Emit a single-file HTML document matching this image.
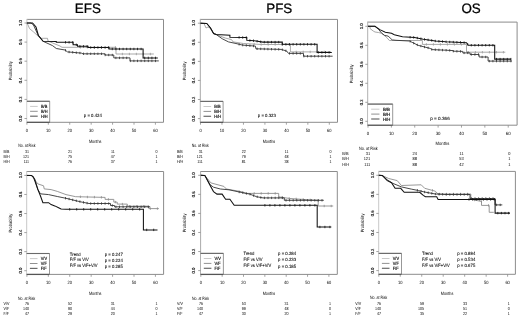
<!DOCTYPE html>
<html><head><meta charset="utf-8"><style>
html,body{margin:0;padding:0;background:#fff;}
body{width:520px;height:319px;overflow:hidden;}
svg{display:block;font-family:"Liberation Sans", sans-serif;filter:grayscale(1);text-rendering:geometricPrecision;}
</style></head><body>
<svg width="520" height="319" viewBox="0 0 520 319">
<rect width="520" height="319" fill="#fff"/>
<path d="M26.90 19.40H163.50V122.30H26.90" fill="none" stroke="#8c8c8c" stroke-width="1"/>
<line x1="26.90" y1="18.90" x2="26.90" y2="122.80" stroke="#c8c8c8" stroke-width="1"/>
<line x1="24.50" y1="118.50" x2="26.90" y2="118.50" stroke="#8c8c8c" stroke-width="0.8"/>
<text font-size="44.0" text-anchor="middle" fill="#000" stroke="#000" stroke-width="1.0" transform="translate(21.70 118.50) rotate(-90) scale(0.0950 0.1000)">0.0</text>
<line x1="24.50" y1="99.40" x2="26.90" y2="99.40" stroke="#8c8c8c" stroke-width="0.8"/>
<text font-size="44.0" text-anchor="middle" fill="#000" stroke="#000" stroke-width="1.0" transform="translate(21.70 99.40) rotate(-90) scale(0.0950 0.1000)">0.2</text>
<line x1="24.50" y1="80.30" x2="26.90" y2="80.30" stroke="#8c8c8c" stroke-width="0.8"/>
<text font-size="44.0" text-anchor="middle" fill="#000" stroke="#000" stroke-width="1.0" transform="translate(21.70 80.30) rotate(-90) scale(0.0950 0.1000)">0.4</text>
<line x1="24.50" y1="61.20" x2="26.90" y2="61.20" stroke="#8c8c8c" stroke-width="0.8"/>
<text font-size="44.0" text-anchor="middle" fill="#000" stroke="#000" stroke-width="1.0" transform="translate(21.70 61.20) rotate(-90) scale(0.0950 0.1000)">0.6</text>
<line x1="24.50" y1="42.10" x2="26.90" y2="42.10" stroke="#8c8c8c" stroke-width="0.8"/>
<text font-size="44.0" text-anchor="middle" fill="#000" stroke="#000" stroke-width="1.0" transform="translate(21.70 42.10) rotate(-90) scale(0.0950 0.1000)">0.8</text>
<line x1="24.50" y1="23.00" x2="26.90" y2="23.00" stroke="#8c8c8c" stroke-width="0.8"/>
<text font-size="44.0" text-anchor="middle" fill="#000" stroke="#000" stroke-width="1.0" transform="translate(21.70 23.00) rotate(-90) scale(0.0950 0.1000)">1.0</text>
<line x1="26.90" y1="122.30" x2="26.90" y2="124.70" stroke="#8c8c8c" stroke-width="0.8"/>
<text font-size="47.0" text-anchor="middle" fill="#000" transform="translate(26.90 132.00) scale(0.0850 0.1000)">0</text>
<line x1="48.32" y1="122.30" x2="48.32" y2="124.70" stroke="#8c8c8c" stroke-width="0.8"/>
<text font-size="47.0" text-anchor="middle" fill="#000" transform="translate(48.32 132.00) scale(0.0850 0.1000)">10</text>
<line x1="69.74" y1="122.30" x2="69.74" y2="124.70" stroke="#8c8c8c" stroke-width="0.8"/>
<text font-size="47.0" text-anchor="middle" fill="#000" transform="translate(69.74 132.00) scale(0.0850 0.1000)">20</text>
<line x1="91.16" y1="122.30" x2="91.16" y2="124.70" stroke="#8c8c8c" stroke-width="0.8"/>
<text font-size="47.0" text-anchor="middle" fill="#000" transform="translate(91.16 132.00) scale(0.0850 0.1000)">30</text>
<line x1="112.58" y1="122.30" x2="112.58" y2="124.70" stroke="#8c8c8c" stroke-width="0.8"/>
<text font-size="47.0" text-anchor="middle" fill="#000" transform="translate(112.58 132.00) scale(0.0850 0.1000)">40</text>
<line x1="134.00" y1="122.30" x2="134.00" y2="124.70" stroke="#8c8c8c" stroke-width="0.8"/>
<text font-size="47.0" text-anchor="middle" fill="#000" transform="translate(134.00 132.00) scale(0.0850 0.1000)">50</text>
<line x1="155.42" y1="122.30" x2="155.42" y2="124.70" stroke="#8c8c8c" stroke-width="0.8"/>
<text font-size="47.0" text-anchor="middle" fill="#000" transform="translate(155.42 132.00) scale(0.0850 0.1000)">60</text>
<text font-size="46.0" text-anchor="middle" fill="#000" transform="translate(95.20 142.70) scale(0.0830 0.1000)">Months</text>
<text font-size="46.0" text-anchor="middle" fill="#000" transform="translate(12.10 70.75) rotate(-90) scale(0.0875 0.1000)">Probability</text>
<rect x="27.40" y="101.30" width="22.30" height="21.00" fill="white"/>
<path d="M26.90 101.30H49.70V122.30" fill="none" stroke="#8c8c8c" stroke-width="0.9"/>
<line x1="26.90" y1="122.30" x2="49.70" y2="122.30" stroke="#555" stroke-width="1.3"/>
<line x1="26.90" y1="101.30" x2="49.70" y2="101.30" stroke="#6a6a6a" stroke-width="1.1"/>
<line x1="30.10" y1="106.40" x2="37.70" y2="106.40" stroke="#bbb" stroke-width="0.8"/>
<text font-size="45.0" text-anchor="start" fill="#000" stroke="#000" stroke-width="1.5" transform="translate(40.90 108.00) scale(0.0880 0.1000)">B/B</text>
<line x1="30.10" y1="111.30" x2="37.70" y2="111.30" stroke="#858585" stroke-width="0.9"/>
<text font-size="45.0" text-anchor="start" fill="#000" stroke="#000" stroke-width="1.5" transform="translate(40.90 112.90) scale(0.0880 0.1000)">B/H</text>
<line x1="30.10" y1="116.20" x2="37.70" y2="116.20" stroke="#6a6a6a" stroke-width="1.2"/>
<text font-size="45.0" text-anchor="start" fill="#000" stroke="#000" stroke-width="1.5" transform="translate(40.90 117.80) scale(0.0880 0.1000)">H/H</text>
<polyline points="26.9,23.0 28.0,25.0 29.6,28.7 33.4,31.8 38.0,36.0 41.3,38.3 47.5,38.3 48.0,41.0 55.0,44.0 60.0,46.0 62.0,47.3 116.0,47.3 116.0,54.0 153.8,54.0" fill="none" stroke="#9a9a9a" stroke-width="0.85" stroke-linejoin="miter"/>
<path d="M80.4 46.1V48.5M87.4 46.1V48.5M94.4 46.1V48.5M101.4 46.1V48.5M108.4 46.1V48.5M115.4 46.1V48.5M122.4 52.8V55.2M129.4 52.8V55.2M136.4 52.8V55.2M143.4 52.8V55.2M150.4 52.8V55.2" stroke="#9a9a9a" stroke-width="0.8"/>
<polyline points="26.9,23.0 31.0,23.0 33.5,25.0 38.0,35.0 43.1,41.3 52.5,45.6 56.3,48.5 65.0,50.0 67.5,51.9 81.3,53.1 83.0,53.8 105.0,53.8 105.0,55.0 113.8,55.0 113.8,57.9 130.0,57.9 130.0,60.9 158.8,60.9" fill="none" stroke="#333333" stroke-width="0.9" stroke-linejoin="miter"/>
<path d="M65.5 49.1V51.5M69.1 50.8V53.2M72.7 51.1V53.5M76.3 51.5V53.9M79.9 51.8V54.2M83.5 52.6V55.0M87.1 52.6V55.0M90.7 52.6V55.0M94.3 52.6V55.0M97.9 52.6V55.0M101.5 52.6V55.0M105.1 53.8V56.2M108.7 53.8V56.2M112.3 53.8V56.2M115.9 56.7V59.1M119.5 56.7V59.1M123.1 56.7V59.1M126.7 56.7V59.1M130.3 59.7V62.1M133.9 59.7V62.1M137.5 59.7V62.1M141.1 59.7V62.1M144.7 59.7V62.1M148.3 59.7V62.1M151.9 59.7V62.1M155.5 59.7V62.1" stroke="#333333" stroke-width="0.8"/>
<polyline points="26.9,23.0 32.5,23.0 33.5,24.0 36.0,27.0 38.4,35.5 43.1,41.3 56.3,41.5 56.3,42.3 73.1,42.3 73.1,44.8 77.5,44.8 77.5,46.3 88.0,46.3 88.0,47.5 109.0,47.5 109.0,49.0 143.1,49.0 143.1,57.9 157.8,57.9" fill="none" stroke="#111111" stroke-width="1.05" stroke-linejoin="miter"/>
<path d="M65.5 41.1V43.5M69.1 41.1V43.5M72.7 41.1V43.5M76.3 43.6V46.0M79.9 45.1V47.5M83.5 45.1V47.5M87.1 45.1V47.5M90.7 46.3V48.7M94.3 46.3V48.7M97.9 46.3V48.7M101.5 46.3V48.7M105.1 46.3V48.7M108.7 46.3V48.7M112.3 47.8V50.2M115.9 47.8V50.2M119.5 47.8V50.2M123.1 47.8V50.2M126.7 47.8V50.2M130.3 47.8V50.2M133.9 47.8V50.2M137.5 47.8V50.2M141.1 47.8V50.2M144.7 56.7V59.1M148.3 56.7V59.1M151.9 56.7V59.1M155.5 56.7V59.1" stroke="#111111" stroke-width="0.8"/>
<text font-size="46.0" text-anchor="middle" fill="#000" stroke="#000" stroke-width="0.7" transform="translate(92.80 117.20) scale(0.0930 0.1000)">p = 0.424</text>
<text font-size="46.0" text-anchor="start" fill="#000" transform="translate(18.30 147.25) scale(0.0760 0.1000)">No. at Risk</text>
<text font-size="45.0" text-anchor="start" fill="#000" transform="translate(3.45 152.75) scale(0.0810 0.1000)">B/B</text>
<text font-size="45.0" text-anchor="end" fill="#000" transform="translate(29.10 152.75) scale(0.0800 0.1000)">31</text>
<text font-size="45.0" text-anchor="end" fill="#000" transform="translate(71.94 152.75) scale(0.0800 0.1000)">21</text>
<text font-size="45.0" text-anchor="end" fill="#000" transform="translate(114.78 152.75) scale(0.0800 0.1000)">11</text>
<text font-size="45.0" text-anchor="end" fill="#000" transform="translate(157.62 152.75) scale(0.0800 0.1000)">0</text>
<text font-size="45.0" text-anchor="start" fill="#000" transform="translate(3.45 157.80) scale(0.0810 0.1000)">B/H</text>
<text font-size="45.0" text-anchor="end" fill="#000" transform="translate(29.10 157.80) scale(0.0800 0.1000)">121</text>
<text font-size="45.0" text-anchor="end" fill="#000" transform="translate(71.94 157.80) scale(0.0800 0.1000)">75</text>
<text font-size="45.0" text-anchor="end" fill="#000" transform="translate(114.78 157.80) scale(0.0800 0.1000)">47</text>
<text font-size="45.0" text-anchor="end" fill="#000" transform="translate(157.62 157.80) scale(0.0800 0.1000)">1</text>
<text font-size="45.0" text-anchor="start" fill="#000" transform="translate(3.45 162.85) scale(0.0810 0.1000)">H/H</text>
<text font-size="45.0" text-anchor="end" fill="#000" transform="translate(29.10 162.85) scale(0.0800 0.1000)">111</text>
<text font-size="45.0" text-anchor="end" fill="#000" transform="translate(71.94 162.85) scale(0.0800 0.1000)">76</text>
<text font-size="45.0" text-anchor="end" fill="#000" transform="translate(114.78 162.85) scale(0.0800 0.1000)">37</text>
<text font-size="45.0" text-anchor="end" fill="#000" transform="translate(157.62 162.85) scale(0.0800 0.1000)">1</text>
<path d="M200.30 19.40H337.50V122.30H200.30" fill="none" stroke="#8c8c8c" stroke-width="1"/>
<line x1="200.30" y1="18.90" x2="200.30" y2="122.80" stroke="#a8a8a8" stroke-width="1"/>
<line x1="197.90" y1="118.60" x2="200.30" y2="118.60" stroke="#8c8c8c" stroke-width="0.8"/>
<text font-size="44.0" text-anchor="middle" fill="#000" stroke="#000" stroke-width="1.0" transform="translate(195.10 118.60) rotate(-90) scale(0.0950 0.1000)">0.0</text>
<line x1="197.90" y1="99.52" x2="200.30" y2="99.52" stroke="#8c8c8c" stroke-width="0.8"/>
<text font-size="44.0" text-anchor="middle" fill="#000" stroke="#000" stroke-width="1.0" transform="translate(195.10 99.52) rotate(-90) scale(0.0950 0.1000)">0.2</text>
<line x1="197.90" y1="80.44" x2="200.30" y2="80.44" stroke="#8c8c8c" stroke-width="0.8"/>
<text font-size="44.0" text-anchor="middle" fill="#000" stroke="#000" stroke-width="1.0" transform="translate(195.10 80.44) rotate(-90) scale(0.0950 0.1000)">0.4</text>
<line x1="197.90" y1="61.36" x2="200.30" y2="61.36" stroke="#8c8c8c" stroke-width="0.8"/>
<text font-size="44.0" text-anchor="middle" fill="#000" stroke="#000" stroke-width="1.0" transform="translate(195.10 61.36) rotate(-90) scale(0.0950 0.1000)">0.6</text>
<line x1="197.90" y1="42.28" x2="200.30" y2="42.28" stroke="#8c8c8c" stroke-width="0.8"/>
<text font-size="44.0" text-anchor="middle" fill="#000" stroke="#000" stroke-width="1.0" transform="translate(195.10 42.28) rotate(-90) scale(0.0950 0.1000)">0.8</text>
<line x1="197.90" y1="23.20" x2="200.30" y2="23.20" stroke="#8c8c8c" stroke-width="0.8"/>
<text font-size="44.0" text-anchor="middle" fill="#000" stroke="#000" stroke-width="1.0" transform="translate(195.10 23.20) rotate(-90) scale(0.0950 0.1000)">1.0</text>
<line x1="200.50" y1="122.30" x2="200.50" y2="124.70" stroke="#8c8c8c" stroke-width="0.8"/>
<text font-size="47.0" text-anchor="middle" fill="#000" transform="translate(200.50 132.00) scale(0.0850 0.1000)">0</text>
<line x1="221.97" y1="122.30" x2="221.97" y2="124.70" stroke="#8c8c8c" stroke-width="0.8"/>
<text font-size="47.0" text-anchor="middle" fill="#000" transform="translate(221.97 132.00) scale(0.0850 0.1000)">10</text>
<line x1="243.44" y1="122.30" x2="243.44" y2="124.70" stroke="#8c8c8c" stroke-width="0.8"/>
<text font-size="47.0" text-anchor="middle" fill="#000" transform="translate(243.44 132.00) scale(0.0850 0.1000)">20</text>
<line x1="264.91" y1="122.30" x2="264.91" y2="124.70" stroke="#8c8c8c" stroke-width="0.8"/>
<text font-size="47.0" text-anchor="middle" fill="#000" transform="translate(264.91 132.00) scale(0.0850 0.1000)">30</text>
<line x1="286.38" y1="122.30" x2="286.38" y2="124.70" stroke="#8c8c8c" stroke-width="0.8"/>
<text font-size="47.0" text-anchor="middle" fill="#000" transform="translate(286.38 132.00) scale(0.0850 0.1000)">40</text>
<line x1="307.85" y1="122.30" x2="307.85" y2="124.70" stroke="#8c8c8c" stroke-width="0.8"/>
<text font-size="47.0" text-anchor="middle" fill="#000" transform="translate(307.85 132.00) scale(0.0850 0.1000)">50</text>
<line x1="329.32" y1="122.30" x2="329.32" y2="124.70" stroke="#8c8c8c" stroke-width="0.8"/>
<text font-size="47.0" text-anchor="middle" fill="#000" transform="translate(329.32 132.00) scale(0.0850 0.1000)">60</text>
<text font-size="46.0" text-anchor="middle" fill="#000" transform="translate(268.90 142.70) scale(0.0830 0.1000)">Months</text>
<text font-size="46.0" text-anchor="middle" fill="#000" transform="translate(185.50 70.90) rotate(-90) scale(0.0875 0.1000)">Probability</text>
<rect x="200.80" y="101.40" width="22.30" height="20.90" fill="white"/>
<path d="M200.30 101.40H223.10V122.30" fill="none" stroke="#8c8c8c" stroke-width="0.9"/>
<line x1="200.30" y1="122.30" x2="223.10" y2="122.30" stroke="#555" stroke-width="1.3"/>
<line x1="200.30" y1="101.40" x2="223.10" y2="101.40" stroke="#6a6a6a" stroke-width="1.1"/>
<line x1="203.50" y1="106.50" x2="211.10" y2="106.50" stroke="#bbb" stroke-width="0.8"/>
<text font-size="45.0" text-anchor="start" fill="#000" stroke="#000" stroke-width="1.5" transform="translate(214.30 108.10) scale(0.0880 0.1000)">B/B</text>
<line x1="203.50" y1="111.40" x2="211.10" y2="111.40" stroke="#858585" stroke-width="0.9"/>
<text font-size="45.0" text-anchor="start" fill="#000" stroke="#000" stroke-width="1.5" transform="translate(214.30 113.00) scale(0.0880 0.1000)">B/H</text>
<line x1="203.50" y1="116.30" x2="211.10" y2="116.30" stroke="#6a6a6a" stroke-width="1.2"/>
<text font-size="45.0" text-anchor="start" fill="#000" stroke="#000" stroke-width="1.5" transform="translate(214.30 117.90) scale(0.0880 0.1000)">H/H</text>
<polyline points="200.5,23.2 204.0,23.5 206.0,28.0 208.0,27.0 210.5,28.5 213.6,33.6 216.2,34.5 225.4,38.1 231.5,39.6 233.1,41.9 243.5,43.5 261.8,44.5 290.4,44.5 290.4,51.9 331.0,51.9" fill="none" stroke="#9a9a9a" stroke-width="0.85" stroke-linejoin="miter"/>
<path d="M254.2 42.9V45.3M261.2 43.3V45.7M268.2 43.3V45.7M275.2 43.3V45.7M282.2 43.3V45.7M289.2 43.3V45.7M296.2 50.7V53.1M303.2 50.7V53.1M310.2 50.7V53.1M317.2 50.7V53.1M324.2 50.7V53.1" stroke="#9a9a9a" stroke-width="0.8"/>
<polyline points="200.5,23.2 206.8,23.5 210.5,28.0 213.6,33.6 216.2,34.5 222.3,38.8 228.5,41.9 236.0,43.5 242.5,45.1 255.4,46.1 255.9,48.8 281.2,49.4 286.6,51.0 288.5,53.4 303.5,53.4 303.5,56.2 332.6,56.2" fill="none" stroke="#333333" stroke-width="0.9" stroke-linejoin="miter"/>
<path d="M239.1 43.1V45.5M242.7 43.9V46.3M246.3 44.2V46.6M249.9 44.5V46.9M253.5 44.8V47.2M257.1 47.6V50.0M260.7 47.7V50.1M264.3 47.8V50.2M267.9 47.9V50.3M271.5 48.0V50.4M275.1 48.1V50.5M278.7 48.1V50.5M282.3 48.5V50.9M285.9 49.6V52.0M289.5 52.2V54.6M293.1 52.2V54.6M296.7 52.2V54.6M300.3 52.2V54.6M303.9 55.0V57.4M307.5 55.0V57.4M311.1 55.0V57.4M314.7 55.0V57.4M318.3 55.0V57.4M321.9 55.0V57.4M325.5 55.0V57.4M329.1 55.0V57.4" stroke="#333333" stroke-width="0.8"/>
<polyline points="200.5,23.2 206.8,23.5 210.5,28.0 213.6,33.6 216.2,34.4 229.9,35.2 229.9,37.3 246.8,37.5 246.8,40.2 254.3,40.8 262.9,42.1 282.3,42.1 282.3,44.3 317.1,44.3 317.1,52.4 331.8,52.4" fill="none" stroke="#111111" stroke-width="1.05" stroke-linejoin="miter"/>
<path d="M239.1 36.2V38.6M242.7 36.3V38.7M246.3 36.3V38.7M249.9 39.3V41.7M253.5 39.5V41.9M257.1 40.0V42.4M260.7 40.6V43.0M264.3 40.9V43.3M267.9 40.9V43.3M271.5 40.9V43.3M275.1 40.9V43.3M278.7 40.9V43.3M282.3 43.1V45.5M285.9 43.1V45.5M289.5 43.1V45.5M293.1 43.1V45.5M296.7 43.1V45.5M300.3 43.1V45.5M303.9 43.1V45.5M307.5 43.1V45.5M311.1 43.1V45.5M314.7 43.1V45.5M318.3 51.2V53.6M321.9 51.2V53.6M325.5 51.2V53.6M329.1 51.2V53.6" stroke="#111111" stroke-width="0.8"/>
<text font-size="46.0" text-anchor="middle" fill="#000" stroke="#000" stroke-width="0.7" transform="translate(266.80 116.60) scale(0.0930 0.1000)">p = 0.323</text>
<text font-size="46.0" text-anchor="start" fill="#000" transform="translate(191.70 147.25) scale(0.0760 0.1000)">No. at Risk</text>
<text font-size="45.0" text-anchor="start" fill="#000" transform="translate(176.90 152.75) scale(0.0810 0.1000)">B/B</text>
<text font-size="45.0" text-anchor="end" fill="#000" transform="translate(202.70 152.75) scale(0.0800 0.1000)">31</text>
<text font-size="45.0" text-anchor="end" fill="#000" transform="translate(245.64 152.75) scale(0.0800 0.1000)">22</text>
<text font-size="45.0" text-anchor="end" fill="#000" transform="translate(288.58 152.75) scale(0.0800 0.1000)">11</text>
<text font-size="45.0" text-anchor="end" fill="#000" transform="translate(331.52 152.75) scale(0.0800 0.1000)">0</text>
<text font-size="45.0" text-anchor="start" fill="#000" transform="translate(176.90 157.80) scale(0.0810 0.1000)">B/H</text>
<text font-size="45.0" text-anchor="end" fill="#000" transform="translate(202.70 157.80) scale(0.0800 0.1000)">121</text>
<text font-size="45.0" text-anchor="end" fill="#000" transform="translate(245.64 157.80) scale(0.0800 0.1000)">79</text>
<text font-size="45.0" text-anchor="end" fill="#000" transform="translate(288.58 157.80) scale(0.0800 0.1000)">48</text>
<text font-size="45.0" text-anchor="end" fill="#000" transform="translate(331.52 157.80) scale(0.0800 0.1000)">1</text>
<text font-size="45.0" text-anchor="start" fill="#000" transform="translate(176.90 162.85) scale(0.0810 0.1000)">H/H</text>
<text font-size="45.0" text-anchor="end" fill="#000" transform="translate(202.70 162.85) scale(0.0800 0.1000)">111</text>
<text font-size="45.0" text-anchor="end" fill="#000" transform="translate(245.64 162.85) scale(0.0800 0.1000)">81</text>
<text font-size="45.0" text-anchor="end" fill="#000" transform="translate(288.58 162.85) scale(0.0800 0.1000)">38</text>
<text font-size="45.0" text-anchor="end" fill="#000" transform="translate(331.52 162.85) scale(0.0800 0.1000)">1</text>
<path d="M367.70 22.10H517.10V125.20H367.70" fill="none" stroke="#8c8c8c" stroke-width="1"/>
<line x1="367.70" y1="21.60" x2="367.70" y2="125.70" stroke="#b0b0b0" stroke-width="1"/>
<line x1="365.30" y1="121.30" x2="367.70" y2="121.30" stroke="#8c8c8c" stroke-width="0.8"/>
<text font-size="44.0" text-anchor="middle" fill="#000" stroke="#000" stroke-width="1.0" transform="translate(362.50 121.30) rotate(-90) scale(0.0950 0.1000)">0.0</text>
<line x1="365.30" y1="102.30" x2="367.70" y2="102.30" stroke="#8c8c8c" stroke-width="0.8"/>
<text font-size="44.0" text-anchor="middle" fill="#000" stroke="#000" stroke-width="1.0" transform="translate(362.50 102.30) rotate(-90) scale(0.0950 0.1000)">0.2</text>
<line x1="365.30" y1="83.30" x2="367.70" y2="83.30" stroke="#8c8c8c" stroke-width="0.8"/>
<text font-size="44.0" text-anchor="middle" fill="#000" stroke="#000" stroke-width="1.0" transform="translate(362.50 83.30) rotate(-90) scale(0.0950 0.1000)">0.4</text>
<line x1="365.30" y1="64.30" x2="367.70" y2="64.30" stroke="#8c8c8c" stroke-width="0.8"/>
<text font-size="44.0" text-anchor="middle" fill="#000" stroke="#000" stroke-width="1.0" transform="translate(362.50 64.30) rotate(-90) scale(0.0950 0.1000)">0.6</text>
<line x1="365.30" y1="45.30" x2="367.70" y2="45.30" stroke="#8c8c8c" stroke-width="0.8"/>
<text font-size="44.0" text-anchor="middle" fill="#000" stroke="#000" stroke-width="1.0" transform="translate(362.50 45.30) rotate(-90) scale(0.0950 0.1000)">0.8</text>
<line x1="365.30" y1="26.30" x2="367.70" y2="26.30" stroke="#8c8c8c" stroke-width="0.8"/>
<text font-size="44.0" text-anchor="middle" fill="#000" stroke="#000" stroke-width="1.0" transform="translate(362.50 26.30) rotate(-90) scale(0.0950 0.1000)">1.0</text>
<line x1="368.00" y1="125.20" x2="368.00" y2="127.60" stroke="#8c8c8c" stroke-width="0.8"/>
<text font-size="47.0" text-anchor="middle" fill="#000" transform="translate(368.00 135.30) scale(0.0926 0.1000)">0</text>
<line x1="391.37" y1="125.20" x2="391.37" y2="127.60" stroke="#8c8c8c" stroke-width="0.8"/>
<text font-size="47.0" text-anchor="middle" fill="#000" transform="translate(391.37 135.30) scale(0.0926 0.1000)">10</text>
<line x1="414.74" y1="125.20" x2="414.74" y2="127.60" stroke="#8c8c8c" stroke-width="0.8"/>
<text font-size="47.0" text-anchor="middle" fill="#000" transform="translate(414.74 135.30) scale(0.0926 0.1000)">20</text>
<line x1="438.11" y1="125.20" x2="438.11" y2="127.60" stroke="#8c8c8c" stroke-width="0.8"/>
<text font-size="47.0" text-anchor="middle" fill="#000" transform="translate(438.11 135.30) scale(0.0926 0.1000)">30</text>
<line x1="461.48" y1="125.20" x2="461.48" y2="127.60" stroke="#8c8c8c" stroke-width="0.8"/>
<text font-size="47.0" text-anchor="middle" fill="#000" transform="translate(461.48 135.30) scale(0.0926 0.1000)">40</text>
<line x1="484.85" y1="125.20" x2="484.85" y2="127.60" stroke="#8c8c8c" stroke-width="0.8"/>
<text font-size="47.0" text-anchor="middle" fill="#000" transform="translate(484.85 135.30) scale(0.0926 0.1000)">50</text>
<line x1="508.22" y1="125.20" x2="508.22" y2="127.60" stroke="#8c8c8c" stroke-width="0.8"/>
<text font-size="47.0" text-anchor="middle" fill="#000" transform="translate(508.22 135.30) scale(0.0926 0.1000)">60</text>
<text font-size="46.0" text-anchor="middle" fill="#000" transform="translate(442.40 145.40) scale(0.0905 0.1000)">Months</text>
<text font-size="46.0" text-anchor="middle" fill="#000" transform="translate(352.90 73.80) rotate(-90) scale(0.0875 0.1000)">Probability</text>
<rect x="368.20" y="104.10" width="24.50" height="21.10" fill="white"/>
<path d="M367.70 104.10H392.70V125.20" fill="none" stroke="#8c8c8c" stroke-width="0.9"/>
<line x1="367.70" y1="125.20" x2="392.70" y2="125.20" stroke="#555" stroke-width="1.3"/>
<line x1="367.70" y1="104.10" x2="392.70" y2="104.10" stroke="#6a6a6a" stroke-width="1.1"/>
<line x1="371.19" y1="109.20" x2="379.47" y2="109.20" stroke="#bbb" stroke-width="0.8"/>
<text font-size="45.0" text-anchor="start" fill="#000" stroke="#000" stroke-width="1.5" transform="translate(382.96 110.80) scale(0.0959 0.1000)">B/B</text>
<line x1="371.19" y1="114.10" x2="379.47" y2="114.10" stroke="#858585" stroke-width="0.9"/>
<text font-size="45.0" text-anchor="start" fill="#000" stroke="#000" stroke-width="1.5" transform="translate(382.96 115.70) scale(0.0959 0.1000)">B/H</text>
<line x1="371.19" y1="119.00" x2="379.47" y2="119.00" stroke="#6a6a6a" stroke-width="1.2"/>
<text font-size="45.0" text-anchor="start" fill="#000" stroke="#000" stroke-width="1.5" transform="translate(382.96 120.60) scale(0.0959 0.1000)">H/H</text>
<polyline points="368.0,26.3 370.0,26.5 370.1,28.6 373.2,31.0 375.0,32.0 378.4,32.5 381.9,33.4 386.7,37.5 389.4,40.5 422.4,40.5 422.4,44.4 466.5,44.4 466.5,52.2 505.3,52.2" fill="none" stroke="#9a9a9a" stroke-width="0.85" stroke-linejoin="miter"/>
<path d="M426.4 43.2V45.6M433.4 43.2V45.6M440.4 43.2V45.6M447.4 43.2V45.6M454.4 43.2V45.6M461.4 43.2V45.6M468.4 51.0V53.4M475.4 51.0V53.4M482.4 51.0V53.4M489.4 51.0V53.4M496.4 51.0V53.4M503.4 51.0V53.4" stroke="#9a9a9a" stroke-width="0.8"/>
<polyline points="368.0,26.3 375.0,26.3 378.4,29.2 381.9,33.4 384.6,35.4 388.1,36.1 390.1,37.9 392.2,39.9 396.0,40.3 409.4,41.0 412.9,42.7 418.1,45.3 421.5,46.2 430.2,48.4 431.9,49.6 445.8,50.2 453.0,50.6 453.0,51.2 462.8,51.4 462.8,52.9 470.1,52.9 470.1,54.5 479.1,54.5 479.1,57.0 488.1,57.0 488.1,61.1 511.8,61.1" fill="none" stroke="#333333" stroke-width="0.9" stroke-linejoin="miter"/>
<path d="M410.1 40.1V42.5M413.7 41.9V44.3M417.3 43.7V46.1M420.9 44.8V47.2M424.5 45.8V48.2M428.1 46.7V49.1M431.7 48.2V50.6M435.3 48.5V50.9M438.9 48.7V51.1M442.5 48.9V51.3M446.1 49.0V51.4M449.7 49.2V51.6M453.3 50.0V52.4M456.9 50.1V52.5M460.5 50.2V52.6M464.1 51.7V54.1M467.7 51.7V54.1M471.3 53.3V55.7M474.9 53.3V55.7M478.5 53.3V55.7M482.1 55.8V58.2M485.7 55.8V58.2M489.3 59.9V62.3M492.9 59.9V62.3M496.5 59.9V62.3M500.1 59.9V62.3M503.7 59.9V62.3M507.3 59.9V62.3M510.9 59.9V62.3" stroke="#333333" stroke-width="0.8"/>
<polyline points="368.0,26.3 375.0,26.3 379.8,29.6 385.3,32.3 391.5,33.3 394.3,34.8 402.5,36.7 414.6,37.5 423.3,39.2 435.4,41.0 445.8,41.8 466.5,42.7 468.3,45.2 494.7,45.2 494.7,59.1 511.0,59.1" fill="none" stroke="#111111" stroke-width="1.05" stroke-linejoin="miter"/>
<path d="M410.1 36.0V38.4M413.7 36.2V38.6M417.3 36.8V39.2M420.9 37.5V39.9M424.5 38.2V40.6M428.1 38.7V41.1M431.7 39.2V41.6M435.3 39.8V42.2M438.9 40.1V42.5M442.5 40.3V42.7M446.1 40.6V43.0M449.7 40.8V43.2M453.3 40.9V43.3M456.9 41.1V43.5M460.5 41.2V43.6M464.1 41.4V43.8M467.7 43.1V45.5M471.3 44.0V46.4M474.9 44.0V46.4M478.5 44.0V46.4M482.1 44.0V46.4M485.7 44.0V46.4M489.3 44.0V46.4M492.9 44.0V46.4M496.5 57.9V60.3M500.1 57.9V60.3M503.7 57.9V60.3M507.3 57.9V60.3M510.9 57.9V60.3" stroke="#111111" stroke-width="0.8"/>
<text font-size="46.0" text-anchor="middle" fill="#000" stroke="#000" stroke-width="0.7" transform="translate(440.00 119.60) scale(0.1014 0.1000)">p = 0.366</text>
<text font-size="46.0" text-anchor="start" fill="#000" transform="translate(359.10 149.90) scale(0.0828 0.1000)">No. at Risk</text>
<text font-size="45.0" text-anchor="start" fill="#000" transform="translate(342.20 155.40) scale(0.0883 0.1000)">B/B</text>
<text font-size="45.0" text-anchor="end" fill="#000" transform="translate(370.20 155.40) scale(0.0872 0.1000)">31</text>
<text font-size="45.0" text-anchor="end" fill="#000" transform="translate(416.94 155.40) scale(0.0872 0.1000)">24</text>
<text font-size="45.0" text-anchor="end" fill="#000" transform="translate(463.68 155.40) scale(0.0872 0.1000)">11</text>
<text font-size="45.0" text-anchor="end" fill="#000" transform="translate(510.42 155.40) scale(0.0872 0.1000)">0</text>
<text font-size="45.0" text-anchor="start" fill="#000" transform="translate(342.20 160.45) scale(0.0883 0.1000)">B/H</text>
<text font-size="45.0" text-anchor="end" fill="#000" transform="translate(370.20 160.45) scale(0.0872 0.1000)">121</text>
<text font-size="45.0" text-anchor="end" fill="#000" transform="translate(416.94 160.45) scale(0.0872 0.1000)">88</text>
<text font-size="45.0" text-anchor="end" fill="#000" transform="translate(463.68 160.45) scale(0.0872 0.1000)">53</text>
<text font-size="45.0" text-anchor="end" fill="#000" transform="translate(510.42 160.45) scale(0.0872 0.1000)">1</text>
<text font-size="45.0" text-anchor="start" fill="#000" transform="translate(342.20 165.50) scale(0.0883 0.1000)">H/H</text>
<text font-size="45.0" text-anchor="end" fill="#000" transform="translate(370.20 165.50) scale(0.0872 0.1000)">111</text>
<text font-size="45.0" text-anchor="end" fill="#000" transform="translate(416.94 165.50) scale(0.0872 0.1000)">88</text>
<text font-size="45.0" text-anchor="end" fill="#000" transform="translate(463.68 165.50) scale(0.0872 0.1000)">42</text>
<text font-size="45.0" text-anchor="end" fill="#000" transform="translate(510.42 165.50) scale(0.0872 0.1000)">1</text>
<path d="M26.70 171.50H163.60V274.40H26.70" fill="none" stroke="#8c8c8c" stroke-width="1"/>
<line x1="26.70" y1="171.00" x2="26.70" y2="274.90" stroke="#c8c8c8" stroke-width="1"/>
<line x1="24.30" y1="270.70" x2="26.70" y2="270.70" stroke="#8c8c8c" stroke-width="0.8"/>
<text font-size="44.0" text-anchor="middle" fill="#000" stroke="#000" stroke-width="1.0" transform="translate(21.50 270.70) rotate(-90) scale(0.0950 0.1000)">0.0</text>
<line x1="24.30" y1="251.64" x2="26.70" y2="251.64" stroke="#8c8c8c" stroke-width="0.8"/>
<text font-size="44.0" text-anchor="middle" fill="#000" stroke="#000" stroke-width="1.0" transform="translate(21.50 251.64) rotate(-90) scale(0.0950 0.1000)">0.2</text>
<line x1="24.30" y1="232.58" x2="26.70" y2="232.58" stroke="#8c8c8c" stroke-width="0.8"/>
<text font-size="44.0" text-anchor="middle" fill="#000" stroke="#000" stroke-width="1.0" transform="translate(21.50 232.58) rotate(-90) scale(0.0950 0.1000)">0.4</text>
<line x1="24.30" y1="213.52" x2="26.70" y2="213.52" stroke="#8c8c8c" stroke-width="0.8"/>
<text font-size="44.0" text-anchor="middle" fill="#000" stroke="#000" stroke-width="1.0" transform="translate(21.50 213.52) rotate(-90) scale(0.0950 0.1000)">0.6</text>
<line x1="24.30" y1="194.46" x2="26.70" y2="194.46" stroke="#8c8c8c" stroke-width="0.8"/>
<text font-size="44.0" text-anchor="middle" fill="#000" stroke="#000" stroke-width="1.0" transform="translate(21.50 194.46) rotate(-90) scale(0.0950 0.1000)">0.8</text>
<line x1="24.30" y1="175.40" x2="26.70" y2="175.40" stroke="#8c8c8c" stroke-width="0.8"/>
<text font-size="44.0" text-anchor="middle" fill="#000" stroke="#000" stroke-width="1.0" transform="translate(21.50 175.40) rotate(-90) scale(0.0950 0.1000)">1.0</text>
<line x1="26.90" y1="274.40" x2="26.90" y2="276.80" stroke="#8c8c8c" stroke-width="0.8"/>
<text font-size="47.0" text-anchor="middle" fill="#000" transform="translate(26.90 284.30) scale(0.0850 0.1000)">0</text>
<line x1="48.32" y1="274.40" x2="48.32" y2="276.80" stroke="#8c8c8c" stroke-width="0.8"/>
<text font-size="47.0" text-anchor="middle" fill="#000" transform="translate(48.32 284.30) scale(0.0850 0.1000)">10</text>
<line x1="69.74" y1="274.40" x2="69.74" y2="276.80" stroke="#8c8c8c" stroke-width="0.8"/>
<text font-size="47.0" text-anchor="middle" fill="#000" transform="translate(69.74 284.30) scale(0.0850 0.1000)">20</text>
<line x1="91.16" y1="274.40" x2="91.16" y2="276.80" stroke="#8c8c8c" stroke-width="0.8"/>
<text font-size="47.0" text-anchor="middle" fill="#000" transform="translate(91.16 284.30) scale(0.0850 0.1000)">30</text>
<line x1="112.58" y1="274.40" x2="112.58" y2="276.80" stroke="#8c8c8c" stroke-width="0.8"/>
<text font-size="47.0" text-anchor="middle" fill="#000" transform="translate(112.58 284.30) scale(0.0850 0.1000)">40</text>
<line x1="134.00" y1="274.40" x2="134.00" y2="276.80" stroke="#8c8c8c" stroke-width="0.8"/>
<text font-size="47.0" text-anchor="middle" fill="#000" transform="translate(134.00 284.30) scale(0.0850 0.1000)">50</text>
<line x1="155.42" y1="274.40" x2="155.42" y2="276.80" stroke="#8c8c8c" stroke-width="0.8"/>
<text font-size="47.0" text-anchor="middle" fill="#000" transform="translate(155.42 284.30) scale(0.0850 0.1000)">60</text>
<text font-size="46.0" text-anchor="middle" fill="#000" transform="translate(95.15 295.20) scale(0.0830 0.1000)">Months</text>
<text font-size="46.0" text-anchor="middle" fill="#000" transform="translate(11.90 223.05) rotate(-90) scale(0.0875 0.1000)">Probability</text>
<rect x="27.20" y="253.50" width="22.30" height="20.90" fill="white"/>
<path d="M26.70 253.50H49.50V274.40" fill="none" stroke="#8c8c8c" stroke-width="0.9"/>
<line x1="26.70" y1="274.40" x2="49.50" y2="274.40" stroke="#555" stroke-width="1.3"/>
<line x1="26.70" y1="253.50" x2="49.50" y2="253.50" stroke="#6a6a6a" stroke-width="1.1"/>
<line x1="29.90" y1="258.60" x2="37.50" y2="258.60" stroke="#bbb" stroke-width="0.8"/>
<text font-size="45.0" text-anchor="start" fill="#000" stroke="#000" stroke-width="1.5" transform="translate(40.70 260.20) scale(0.0880 0.1000)">V/V</text>
<line x1="29.90" y1="263.50" x2="37.50" y2="263.50" stroke="#858585" stroke-width="0.9"/>
<text font-size="45.0" text-anchor="start" fill="#000" stroke="#000" stroke-width="1.5" transform="translate(40.70 265.10) scale(0.0880 0.1000)">V/F</text>
<line x1="29.90" y1="268.40" x2="37.50" y2="268.40" stroke="#6a6a6a" stroke-width="1.2"/>
<text font-size="45.0" text-anchor="start" fill="#000" stroke="#000" stroke-width="1.5" transform="translate(40.70 270.00) scale(0.0880 0.1000)">F/F</text>
<polyline points="26.9,175.4 31.6,175.5 35.4,180.8 37.9,183.9 43.6,185.8 44.2,188.9 51.1,189.6 57.3,191.4 66.0,194.6 75.7,196.7 105.1,197.4 105.1,199.4 113.8,199.4 113.8,202.1 117.2,202.1 117.2,204.1 127.3,204.1 127.3,206.2 148.8,206.2 148.8,208.6 158.9,208.6" fill="none" stroke="#8c8c8c" stroke-width="0.9" stroke-linejoin="miter"/>
<path d="M80.4 195.6V198.0M87.4 195.8V198.2M94.4 195.9V198.3M101.4 196.1V198.5M108.4 198.2V200.6M115.4 200.9V203.3M122.4 202.9V205.3M129.4 205.0V207.4M136.4 205.0V207.4M143.4 205.0V207.4M150.4 207.4V209.8M157.4 207.4V209.8" stroke="#8c8c8c" stroke-width="0.8"/>
<polyline points="26.9,175.4 31.6,175.5 34.8,178.9 37.9,189.6 39.8,192.7 41.0,193.9 48.6,194.6 57.3,196.5 66.0,198.3 80.9,201.9 89.0,203.5 110.5,203.5 110.5,205.5 114.5,205.5 114.5,206.8 150.2,206.8" fill="none" stroke="#333333" stroke-width="0.9" stroke-linejoin="miter"/>
<path d="M65.5 197.0V199.4M69.1 197.8V200.2M72.7 198.7V201.1M76.3 199.6V202.0M79.9 200.4V202.8M83.5 201.2V203.6M87.1 201.9V204.3M90.7 202.3V204.7M94.3 202.3V204.7M97.9 202.3V204.7M101.5 202.3V204.7M105.1 202.3V204.7M108.7 202.3V204.7M112.3 204.3V206.7M115.9 205.6V208.0M119.5 205.6V208.0M123.1 205.6V208.0M126.7 205.6V208.0M130.3 205.6V208.0M133.9 205.6V208.0M137.5 205.6V208.0M141.1 205.6V208.0M144.7 205.6V208.0M148.3 205.6V208.0" stroke="#333333" stroke-width="0.8"/>
<polyline points="26.9,175.4 31.6,175.5 33.5,177.0 37.9,189.6 40.4,195.8 42.9,202.7 48.6,202.7 51.1,204.6 54.8,205.9 58.6,207.7 61.1,209.0 66.0,209.3 143.4,209.3 143.4,229.9 157.5,229.9" fill="none" stroke="#111111" stroke-width="1.05" stroke-linejoin="miter"/>
<path d="M69.7 208.1V210.5M76.7 208.1V210.5M83.7 208.1V210.5M90.7 208.1V210.5M97.7 208.1V210.5M104.7 208.1V210.5M111.7 208.1V210.5M118.7 208.1V210.5M125.7 208.1V210.5M132.7 208.1V210.5M139.7 208.1V210.5M146.7 228.7V231.1M153.7 228.7V231.1" stroke="#111111" stroke-width="0.8"/>
<text font-size="46.0" text-anchor="start" fill="#000" stroke="#000" stroke-width="0.7" transform="translate(69.80 255.60) scale(0.0920 0.1000)">Trend</text>
<text font-size="46.0" text-anchor="start" fill="#000" stroke="#000" stroke-width="0.7" transform="translate(69.80 261.40) scale(0.0885 0.1000)">F/F vs V/V</text>
<text font-size="46.0" text-anchor="start" fill="#000" stroke="#000" stroke-width="0.7" transform="translate(69.80 267.40) scale(0.0885 0.1000)">F/F vs V/F+V/V</text>
<text font-size="46.0" text-anchor="start" fill="#000" stroke="#000" stroke-width="0.7" transform="translate(104.80 255.80) scale(0.0930 0.1000)">p = 0.247</text>
<text font-size="46.0" text-anchor="start" fill="#000" stroke="#000" stroke-width="0.7" transform="translate(104.80 261.90) scale(0.0930 0.1000)">p = 0.224</text>
<text font-size="46.0" text-anchor="start" fill="#000" stroke="#000" stroke-width="0.7" transform="translate(104.80 267.70) scale(0.0930 0.1000)">p = 0.285</text>
<text font-size="46.0" text-anchor="start" fill="#000" transform="translate(18.10 299.50) scale(0.0760 0.1000)">No. at Risk</text>
<text font-size="45.0" text-anchor="start" fill="#000" transform="translate(3.45 305.00) scale(0.0810 0.1000)">V/V</text>
<text font-size="45.0" text-anchor="end" fill="#000" transform="translate(29.10 305.00) scale(0.0800 0.1000)">76</text>
<text font-size="45.0" text-anchor="end" fill="#000" transform="translate(71.94 305.00) scale(0.0800 0.1000)">52</text>
<text font-size="45.0" text-anchor="end" fill="#000" transform="translate(114.78 305.00) scale(0.0800 0.1000)">31</text>
<text font-size="45.0" text-anchor="end" fill="#000" transform="translate(157.62 305.00) scale(0.0800 0.1000)">1</text>
<text font-size="45.0" text-anchor="start" fill="#000" transform="translate(3.45 310.05) scale(0.0810 0.1000)">V/F</text>
<text font-size="45.0" text-anchor="end" fill="#000" transform="translate(29.10 310.05) scale(0.0800 0.1000)">140</text>
<text font-size="45.0" text-anchor="end" fill="#000" transform="translate(71.94 310.05) scale(0.0800 0.1000)">90</text>
<text font-size="45.0" text-anchor="end" fill="#000" transform="translate(114.78 310.05) scale(0.0800 0.1000)">44</text>
<text font-size="45.0" text-anchor="end" fill="#000" transform="translate(157.62 310.05) scale(0.0800 0.1000)">0</text>
<text font-size="45.0" text-anchor="start" fill="#000" transform="translate(3.45 315.10) scale(0.0810 0.1000)">F/F</text>
<text font-size="45.0" text-anchor="end" fill="#000" transform="translate(29.10 315.10) scale(0.0800 0.1000)">47</text>
<text font-size="45.0" text-anchor="end" fill="#000" transform="translate(71.94 315.10) scale(0.0800 0.1000)">29</text>
<text font-size="45.0" text-anchor="end" fill="#000" transform="translate(114.78 315.10) scale(0.0800 0.1000)">20</text>
<text font-size="45.0" text-anchor="end" fill="#000" transform="translate(157.62 315.10) scale(0.0800 0.1000)">1</text>
<path d="M200.60 171.50H337.30V274.40H200.60" fill="none" stroke="#8c8c8c" stroke-width="1"/>
<line x1="200.60" y1="171.00" x2="200.60" y2="274.90" stroke="#ababab" stroke-width="1"/>
<line x1="198.20" y1="270.60" x2="200.60" y2="270.60" stroke="#8c8c8c" stroke-width="0.8"/>
<text font-size="44.0" text-anchor="middle" fill="#000" stroke="#000" stroke-width="1.0" transform="translate(195.40 270.60) rotate(-90) scale(0.0950 0.1000)">0.0</text>
<line x1="198.20" y1="251.54" x2="200.60" y2="251.54" stroke="#8c8c8c" stroke-width="0.8"/>
<text font-size="44.0" text-anchor="middle" fill="#000" stroke="#000" stroke-width="1.0" transform="translate(195.40 251.54) rotate(-90) scale(0.0950 0.1000)">0.2</text>
<line x1="198.20" y1="232.48" x2="200.60" y2="232.48" stroke="#8c8c8c" stroke-width="0.8"/>
<text font-size="44.0" text-anchor="middle" fill="#000" stroke="#000" stroke-width="1.0" transform="translate(195.40 232.48) rotate(-90) scale(0.0950 0.1000)">0.4</text>
<line x1="198.20" y1="213.42" x2="200.60" y2="213.42" stroke="#8c8c8c" stroke-width="0.8"/>
<text font-size="44.0" text-anchor="middle" fill="#000" stroke="#000" stroke-width="1.0" transform="translate(195.40 213.42) rotate(-90) scale(0.0950 0.1000)">0.6</text>
<line x1="198.20" y1="194.36" x2="200.60" y2="194.36" stroke="#8c8c8c" stroke-width="0.8"/>
<text font-size="44.0" text-anchor="middle" fill="#000" stroke="#000" stroke-width="1.0" transform="translate(195.40 194.36) rotate(-90) scale(0.0950 0.1000)">0.8</text>
<line x1="198.20" y1="175.30" x2="200.60" y2="175.30" stroke="#8c8c8c" stroke-width="0.8"/>
<text font-size="44.0" text-anchor="middle" fill="#000" stroke="#000" stroke-width="1.0" transform="translate(195.40 175.30) rotate(-90) scale(0.0950 0.1000)">1.0</text>
<line x1="200.80" y1="274.40" x2="200.80" y2="276.80" stroke="#8c8c8c" stroke-width="0.8"/>
<text font-size="47.0" text-anchor="middle" fill="#000" transform="translate(200.80 284.30) scale(0.0850 0.1000)">0</text>
<line x1="222.15" y1="274.40" x2="222.15" y2="276.80" stroke="#8c8c8c" stroke-width="0.8"/>
<text font-size="47.0" text-anchor="middle" fill="#000" transform="translate(222.15 284.30) scale(0.0850 0.1000)">10</text>
<line x1="243.50" y1="274.40" x2="243.50" y2="276.80" stroke="#8c8c8c" stroke-width="0.8"/>
<text font-size="47.0" text-anchor="middle" fill="#000" transform="translate(243.50 284.30) scale(0.0850 0.1000)">20</text>
<line x1="264.85" y1="274.40" x2="264.85" y2="276.80" stroke="#8c8c8c" stroke-width="0.8"/>
<text font-size="47.0" text-anchor="middle" fill="#000" transform="translate(264.85 284.30) scale(0.0850 0.1000)">30</text>
<line x1="286.20" y1="274.40" x2="286.20" y2="276.80" stroke="#8c8c8c" stroke-width="0.8"/>
<text font-size="47.0" text-anchor="middle" fill="#000" transform="translate(286.20 284.30) scale(0.0850 0.1000)">40</text>
<line x1="307.55" y1="274.40" x2="307.55" y2="276.80" stroke="#8c8c8c" stroke-width="0.8"/>
<text font-size="47.0" text-anchor="middle" fill="#000" transform="translate(307.55 284.30) scale(0.0850 0.1000)">50</text>
<line x1="328.90" y1="274.40" x2="328.90" y2="276.80" stroke="#8c8c8c" stroke-width="0.8"/>
<text font-size="47.0" text-anchor="middle" fill="#000" transform="translate(328.90 284.30) scale(0.0850 0.1000)">60</text>
<text font-size="46.0" text-anchor="middle" fill="#000" transform="translate(268.95 295.20) scale(0.0830 0.1000)">Months</text>
<text font-size="46.0" text-anchor="middle" fill="#000" transform="translate(185.80 222.95) rotate(-90) scale(0.0875 0.1000)">Probability</text>
<rect x="201.10" y="253.40" width="22.30" height="21.00" fill="white"/>
<path d="M200.60 253.40H223.40V274.40" fill="none" stroke="#8c8c8c" stroke-width="0.9"/>
<line x1="200.60" y1="274.40" x2="223.40" y2="274.40" stroke="#555" stroke-width="1.3"/>
<line x1="200.60" y1="253.40" x2="223.40" y2="253.40" stroke="#6a6a6a" stroke-width="1.1"/>
<line x1="203.80" y1="258.50" x2="211.40" y2="258.50" stroke="#bbb" stroke-width="0.8"/>
<text font-size="45.0" text-anchor="start" fill="#000" stroke="#000" stroke-width="1.5" transform="translate(214.60 260.10) scale(0.0880 0.1000)">V/V</text>
<line x1="203.80" y1="263.40" x2="211.40" y2="263.40" stroke="#858585" stroke-width="0.9"/>
<text font-size="45.0" text-anchor="start" fill="#000" stroke="#000" stroke-width="1.5" transform="translate(214.60 265.00) scale(0.0880 0.1000)">V/F</text>
<line x1="203.80" y1="268.30" x2="211.40" y2="268.30" stroke="#6a6a6a" stroke-width="1.2"/>
<text font-size="45.0" text-anchor="start" fill="#000" stroke="#000" stroke-width="1.5" transform="translate(214.60 269.90) scale(0.0880 0.1000)">F/F</text>
<polyline points="200.8,175.3 204.9,175.6 210.9,182.9 223.9,186.4 226.4,189.0 241.1,191.6 246.3,193.4 278.7,193.4 278.7,196.9 290.0,198.5 318.2,200.5 318.2,206.0 333.2,206.0" fill="none" stroke="#8c8c8c" stroke-width="0.9" stroke-linejoin="miter"/>
<path d="M254.2 192.2V194.6M261.2 192.2V194.6M268.2 192.2V194.6M275.2 192.2V194.6M282.2 196.2V198.6M289.2 197.2V199.6M296.2 197.7V200.1M303.2 198.2V200.6M310.2 198.7V201.1M317.2 199.2V201.6M324.2 204.8V207.2M331.2 204.8V207.2" stroke="#8c8c8c" stroke-width="0.8"/>
<polyline points="200.8,175.3 204.9,175.6 210.1,184.7 213.5,187.2 220.4,189.0 229.0,189.8 241.1,192.4 249.7,194.1 256.6,196.7 263.0,197.9 284.3,197.9 284.3,200.3 323.8,200.3" fill="none" stroke="#333333" stroke-width="0.9" stroke-linejoin="miter"/>
<path d="M239.2 190.8V193.2M242.8 191.5V193.9M246.4 192.3V194.7M250.0 193.0V195.4M253.6 194.4V196.8M257.2 195.6V198.0M260.8 196.3V198.7M264.4 196.7V199.1M268.0 196.7V199.1M271.6 196.7V199.1M275.2 196.7V199.1M278.8 196.7V199.1M282.4 196.7V199.1M286.0 199.1V201.5M289.6 199.1V201.5M293.2 199.1V201.5M296.8 199.1V201.5M300.4 199.1V201.5M304.0 199.1V201.5M307.6 199.1V201.5M311.2 199.1V201.5M314.8 199.1V201.5M318.4 199.1V201.5M322.0 199.1V201.5" stroke="#333333" stroke-width="0.8"/>
<polyline points="200.8,175.3 204.9,175.6 209.2,183.8 213.5,191.6 217.0,194.1 222.1,194.1 225.6,199.3 229.9,199.3 234.2,205.3 317.2,205.3 317.2,227.0 331.3,227.0" fill="none" stroke="#111111" stroke-width="1.05" stroke-linejoin="miter"/>
<path d="M264.9 204.1V206.5M269.9 204.1V206.5M274.9 204.1V206.5M279.9 204.1V206.5M284.9 204.1V206.5M289.9 204.1V206.5M294.9 204.1V206.5M299.9 204.1V206.5M304.9 204.1V206.5M309.9 204.1V206.5M314.9 204.1V206.5M319.9 225.8V228.2M324.9 225.8V228.2M329.9 225.8V228.2" stroke="#111111" stroke-width="0.8"/>
<text font-size="46.0" text-anchor="start" fill="#000" stroke="#000" stroke-width="0.7" transform="translate(243.50 255.40) scale(0.0920 0.1000)">Trend</text>
<text font-size="46.0" text-anchor="start" fill="#000" stroke="#000" stroke-width="0.7" transform="translate(243.50 261.20) scale(0.0885 0.1000)">F/F vs V/V</text>
<text font-size="46.0" text-anchor="start" fill="#000" stroke="#000" stroke-width="0.7" transform="translate(243.50 266.70) scale(0.0885 0.1000)">F/F vs V/F+V/V</text>
<text font-size="46.0" text-anchor="start" fill="#000" stroke="#000" stroke-width="0.7" transform="translate(278.10 255.00) scale(0.0930 0.1000)">p = 0.284</text>
<text font-size="46.0" text-anchor="start" fill="#000" stroke="#000" stroke-width="0.7" transform="translate(278.10 261.40) scale(0.0930 0.1000)">p = 0.233</text>
<text font-size="46.0" text-anchor="start" fill="#000" stroke="#000" stroke-width="0.7" transform="translate(278.10 267.50) scale(0.0930 0.1000)">p = 0.185</text>
<text font-size="46.0" text-anchor="start" fill="#000" transform="translate(192.00 299.50) scale(0.0760 0.1000)">No. at Risk</text>
<text font-size="45.0" text-anchor="start" fill="#000" transform="translate(177.10 305.00) scale(0.0810 0.1000)">V/V</text>
<text font-size="45.0" text-anchor="end" fill="#000" transform="translate(203.00 305.00) scale(0.0800 0.1000)">76</text>
<text font-size="45.0" text-anchor="end" fill="#000" transform="translate(245.70 305.00) scale(0.0800 0.1000)">53</text>
<text font-size="45.0" text-anchor="end" fill="#000" transform="translate(288.40 305.00) scale(0.0800 0.1000)">31</text>
<text font-size="45.0" text-anchor="end" fill="#000" transform="translate(331.10 305.00) scale(0.0800 0.1000)">1</text>
<text font-size="45.0" text-anchor="start" fill="#000" transform="translate(177.10 310.05) scale(0.0810 0.1000)">V/F</text>
<text font-size="45.0" text-anchor="end" fill="#000" transform="translate(203.00 310.05) scale(0.0800 0.1000)">140</text>
<text font-size="45.0" text-anchor="end" fill="#000" transform="translate(245.70 310.05) scale(0.0800 0.1000)">99</text>
<text font-size="45.0" text-anchor="end" fill="#000" transform="translate(288.40 310.05) scale(0.0800 0.1000)">48</text>
<text font-size="45.0" text-anchor="end" fill="#000" transform="translate(331.10 310.05) scale(0.0800 0.1000)">0</text>
<text font-size="45.0" text-anchor="start" fill="#000" transform="translate(177.10 315.10) scale(0.0810 0.1000)">F/F</text>
<text font-size="45.0" text-anchor="end" fill="#000" transform="translate(203.00 315.10) scale(0.0800 0.1000)">47</text>
<text font-size="45.0" text-anchor="end" fill="#000" transform="translate(245.70 315.10) scale(0.0800 0.1000)">30</text>
<text font-size="45.0" text-anchor="end" fill="#000" transform="translate(288.40 315.10) scale(0.0800 0.1000)">20</text>
<text font-size="45.0" text-anchor="end" fill="#000" transform="translate(331.10 315.10) scale(0.0800 0.1000)">1</text>
<path d="M378.70 171.40H515.40V274.30H378.70" fill="none" stroke="#8c8c8c" stroke-width="1"/>
<line x1="378.70" y1="170.90" x2="378.70" y2="274.80" stroke="#c8c8c8" stroke-width="1"/>
<line x1="376.30" y1="270.60" x2="378.70" y2="270.60" stroke="#8c8c8c" stroke-width="0.8"/>
<text font-size="44.0" text-anchor="middle" fill="#000" stroke="#000" stroke-width="1.0" transform="translate(373.50 270.60) rotate(-90) scale(0.0950 0.1000)">0.0</text>
<line x1="376.30" y1="251.54" x2="378.70" y2="251.54" stroke="#8c8c8c" stroke-width="0.8"/>
<text font-size="44.0" text-anchor="middle" fill="#000" stroke="#000" stroke-width="1.0" transform="translate(373.50 251.54) rotate(-90) scale(0.0950 0.1000)">0.2</text>
<line x1="376.30" y1="232.48" x2="378.70" y2="232.48" stroke="#8c8c8c" stroke-width="0.8"/>
<text font-size="44.0" text-anchor="middle" fill="#000" stroke="#000" stroke-width="1.0" transform="translate(373.50 232.48) rotate(-90) scale(0.0950 0.1000)">0.4</text>
<line x1="376.30" y1="213.42" x2="378.70" y2="213.42" stroke="#8c8c8c" stroke-width="0.8"/>
<text font-size="44.0" text-anchor="middle" fill="#000" stroke="#000" stroke-width="1.0" transform="translate(373.50 213.42) rotate(-90) scale(0.0950 0.1000)">0.6</text>
<line x1="376.30" y1="194.36" x2="378.70" y2="194.36" stroke="#8c8c8c" stroke-width="0.8"/>
<text font-size="44.0" text-anchor="middle" fill="#000" stroke="#000" stroke-width="1.0" transform="translate(373.50 194.36) rotate(-90) scale(0.0950 0.1000)">0.8</text>
<line x1="376.30" y1="175.30" x2="378.70" y2="175.30" stroke="#8c8c8c" stroke-width="0.8"/>
<text font-size="44.0" text-anchor="middle" fill="#000" stroke="#000" stroke-width="1.0" transform="translate(373.50 175.30) rotate(-90) scale(0.0950 0.1000)">1.0</text>
<line x1="378.80" y1="274.30" x2="378.80" y2="276.70" stroke="#8c8c8c" stroke-width="0.8"/>
<text font-size="47.0" text-anchor="middle" fill="#000" transform="translate(378.80 284.30) scale(0.0850 0.1000)">0</text>
<line x1="400.27" y1="274.30" x2="400.27" y2="276.70" stroke="#8c8c8c" stroke-width="0.8"/>
<text font-size="47.0" text-anchor="middle" fill="#000" transform="translate(400.27 284.30) scale(0.0850 0.1000)">10</text>
<line x1="421.74" y1="274.30" x2="421.74" y2="276.70" stroke="#8c8c8c" stroke-width="0.8"/>
<text font-size="47.0" text-anchor="middle" fill="#000" transform="translate(421.74 284.30) scale(0.0850 0.1000)">20</text>
<line x1="443.21" y1="274.30" x2="443.21" y2="276.70" stroke="#8c8c8c" stroke-width="0.8"/>
<text font-size="47.0" text-anchor="middle" fill="#000" transform="translate(443.21 284.30) scale(0.0850 0.1000)">30</text>
<line x1="464.68" y1="274.30" x2="464.68" y2="276.70" stroke="#8c8c8c" stroke-width="0.8"/>
<text font-size="47.0" text-anchor="middle" fill="#000" transform="translate(464.68 284.30) scale(0.0850 0.1000)">40</text>
<line x1="486.15" y1="274.30" x2="486.15" y2="276.70" stroke="#8c8c8c" stroke-width="0.8"/>
<text font-size="47.0" text-anchor="middle" fill="#000" transform="translate(486.15 284.30) scale(0.0850 0.1000)">50</text>
<line x1="507.62" y1="274.30" x2="507.62" y2="276.70" stroke="#8c8c8c" stroke-width="0.8"/>
<text font-size="47.0" text-anchor="middle" fill="#000" transform="translate(507.62 284.30) scale(0.0850 0.1000)">60</text>
<text font-size="46.0" text-anchor="middle" fill="#000" transform="translate(447.05 295.20) scale(0.0830 0.1000)">Months</text>
<text font-size="46.0" text-anchor="middle" fill="#000" transform="translate(363.90 222.95) rotate(-90) scale(0.0875 0.1000)">Probability</text>
<rect x="379.20" y="253.40" width="22.30" height="20.90" fill="white"/>
<path d="M378.70 253.40H401.50V274.30" fill="none" stroke="#8c8c8c" stroke-width="0.9"/>
<line x1="378.70" y1="274.30" x2="401.50" y2="274.30" stroke="#555" stroke-width="1.3"/>
<line x1="378.70" y1="253.40" x2="401.50" y2="253.40" stroke="#6a6a6a" stroke-width="1.1"/>
<line x1="381.90" y1="258.50" x2="389.50" y2="258.50" stroke="#bbb" stroke-width="0.8"/>
<text font-size="45.0" text-anchor="start" fill="#000" stroke="#000" stroke-width="1.5" transform="translate(392.70 260.10) scale(0.0880 0.1000)">V/V</text>
<line x1="381.90" y1="263.40" x2="389.50" y2="263.40" stroke="#858585" stroke-width="0.9"/>
<text font-size="45.0" text-anchor="start" fill="#000" stroke="#000" stroke-width="1.5" transform="translate(392.70 265.00) scale(0.0880 0.1000)">V/F</text>
<line x1="381.90" y1="268.30" x2="389.50" y2="268.30" stroke="#6a6a6a" stroke-width="1.2"/>
<text font-size="45.0" text-anchor="start" fill="#000" stroke="#000" stroke-width="1.5" transform="translate(392.70 269.90) scale(0.0880 0.1000)">F/F</text>
<polyline points="378.8,175.3 382.4,175.6 388.7,178.5 397.2,180.6 401.4,185.5 421.2,184.8 424.7,188.3 435.3,191.2 438.1,194.0 470.8,194.0 470.8,199.2 481.5,201.5 481.5,205.4 489.2,205.4 489.2,212.3 493.8,212.3" fill="none" stroke="#8c8c8c" stroke-width="0.9" stroke-linejoin="miter"/>
<path d="M432.5 189.2V191.6M439.5 192.8V195.2M446.5 192.8V195.2M453.5 192.8V195.2M460.5 192.8V195.2M467.5 192.8V195.2M474.5 198.8V201.2M481.5 200.3V202.7M488.5 204.2V206.6" stroke="#8c8c8c" stroke-width="0.8"/>
<polyline points="378.8,175.3 382.4,175.6 387.3,179.9 392.9,183.4 401.4,186.9 411.3,189.1 418.3,190.5 424.0,191.9 435.3,194.0 446.0,194.5 470.0,194.5 470.0,198.5 495.1,198.5 495.1,204.9 502.3,204.9" fill="none" stroke="#333333" stroke-width="0.9" stroke-linejoin="miter"/>
<path d="M417.4 189.1V191.5M421.0 190.0V192.4M424.6 190.8V193.2M428.2 191.5V193.9M431.8 192.2V194.6M435.4 192.8V195.2M439.0 193.0V195.4M442.6 193.1V195.5M446.2 193.3V195.7M449.8 193.3V195.7M453.4 193.3V195.7M457.0 193.3V195.7M460.6 193.3V195.7M464.2 193.3V195.7M467.8 193.3V195.7M471.4 197.3V199.7M475.0 197.3V199.7M478.6 197.3V199.7M482.2 197.3V199.7M485.8 197.3V199.7M489.4 197.3V199.7M493.0 197.3V199.7M496.6 203.7V206.1M500.2 203.7V206.1" stroke="#333333" stroke-width="0.8"/>
<polyline points="378.8,175.3 382.4,175.6 387.3,180.6 391.5,182.7 395.1,188.3 400.7,188.3 404.2,192.3 419.7,192.3 423.3,195.4 425.4,196.8 436.7,196.8 438.1,199.4 495.1,199.4 495.1,213.1 510.0,213.1" fill="none" stroke="#111111" stroke-width="1.05" stroke-linejoin="miter"/>
<path d="M469.0 198.2V200.6M472.6 198.2V200.6M476.2 198.2V200.6M479.8 198.2V200.6M483.4 198.2V200.6M487.0 198.2V200.6M490.6 198.2V200.6M494.2 198.2V200.6M497.8 211.9V214.3M501.4 211.9V214.3M505.0 211.9V214.3M508.6 211.9V214.3" stroke="#111111" stroke-width="0.8"/>
<text font-size="46.0" text-anchor="start" fill="#000" stroke="#000" stroke-width="0.7" transform="translate(422.00 255.40) scale(0.0920 0.1000)">Trend</text>
<text font-size="46.0" text-anchor="start" fill="#000" stroke="#000" stroke-width="0.7" transform="translate(422.00 261.20) scale(0.0885 0.1000)">F/F vs V/V</text>
<text font-size="46.0" text-anchor="start" fill="#000" stroke="#000" stroke-width="0.7" transform="translate(422.00 266.70) scale(0.0885 0.1000)">F/F vs V/F+V/V</text>
<text font-size="46.0" text-anchor="start" fill="#000" stroke="#000" stroke-width="0.7" transform="translate(457.30 255.20) scale(0.0930 0.1000)">p = 0.894</text>
<text font-size="46.0" text-anchor="start" fill="#000" stroke="#000" stroke-width="0.7" transform="translate(457.30 261.40) scale(0.0930 0.1000)">p = 0.534</text>
<text font-size="46.0" text-anchor="start" fill="#000" stroke="#000" stroke-width="0.7" transform="translate(457.30 266.90) scale(0.0930 0.1000)">p = 0.675</text>
<text font-size="46.0" text-anchor="start" fill="#000" transform="translate(370.10 299.40) scale(0.0760 0.1000)">No. at Risk</text>
<text font-size="45.0" text-anchor="start" fill="#000" transform="translate(355.20 304.90) scale(0.0810 0.1000)">V/V</text>
<text font-size="45.0" text-anchor="end" fill="#000" transform="translate(381.00 304.90) scale(0.0800 0.1000)">76</text>
<text font-size="45.0" text-anchor="end" fill="#000" transform="translate(423.94 304.90) scale(0.0800 0.1000)">59</text>
<text font-size="45.0" text-anchor="end" fill="#000" transform="translate(466.88 304.90) scale(0.0800 0.1000)">33</text>
<text font-size="45.0" text-anchor="end" fill="#000" transform="translate(509.82 304.90) scale(0.0800 0.1000)">1</text>
<text font-size="45.0" text-anchor="start" fill="#000" transform="translate(355.20 309.95) scale(0.0810 0.1000)">V/F</text>
<text font-size="45.0" text-anchor="end" fill="#000" transform="translate(381.00 309.95) scale(0.0800 0.1000)">140</text>
<text font-size="45.0" text-anchor="end" fill="#000" transform="translate(423.94 309.95) scale(0.0800 0.1000)">105</text>
<text font-size="45.0" text-anchor="end" fill="#000" transform="translate(466.88 309.95) scale(0.0800 0.1000)">51</text>
<text font-size="45.0" text-anchor="end" fill="#000" transform="translate(509.82 309.95) scale(0.0800 0.1000)">0</text>
<text font-size="45.0" text-anchor="start" fill="#000" transform="translate(355.20 315.00) scale(0.0810 0.1000)">F/F</text>
<text font-size="45.0" text-anchor="end" fill="#000" transform="translate(381.00 315.00) scale(0.0800 0.1000)">47</text>
<text font-size="45.0" text-anchor="end" fill="#000" transform="translate(423.94 315.00) scale(0.0800 0.1000)">35</text>
<text font-size="45.0" text-anchor="end" fill="#000" transform="translate(466.88 315.00) scale(0.0800 0.1000)">22</text>
<text font-size="45.0" text-anchor="end" fill="#000" transform="translate(509.82 315.00) scale(0.0800 0.1000)">1</text>
<text font-size="137.0" text-anchor="middle" fill="#000" stroke="#000" stroke-width="2.5" transform="translate(87.80 12.75) scale(0.0975 0.1000)">EFS</text>
<text font-size="137.0" text-anchor="middle" fill="#000" stroke="#000" stroke-width="2.5" transform="translate(279.25 12.55) scale(0.0975 0.1000)">PFS</text>
<text font-size="137.0" text-anchor="middle" fill="#000" stroke="#000" stroke-width="2.5" transform="translate(471.05 12.55) scale(0.0975 0.1000)">OS</text>
</svg>
</body></html>
